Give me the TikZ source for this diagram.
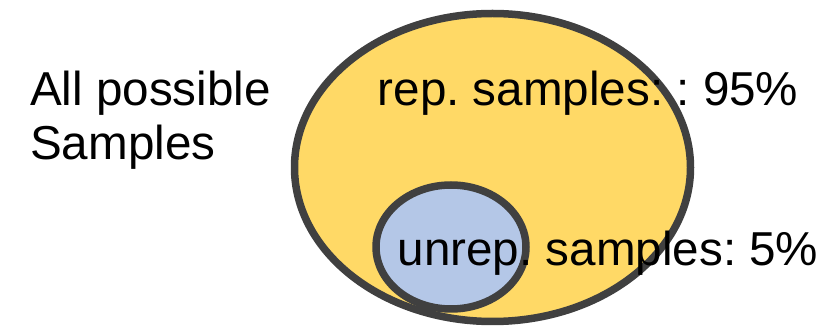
\documentclass[tikz,border=0pt]{standalone}
\usepackage{fontspec}
\setmainfont{Liberation Sans}
\begin{document}
\frenchspacing
\begin{tikzpicture}[x=1pt,y=-1pt,
  setshape/.style={draw=setline,line width=7.5pt},
  lbl/.style={anchor=base west,inner sep=0pt,font=\fontsize{47.6}{54}\selectfont,align=left}]
\definecolor{setline}{HTML}{404040}
\definecolor{repfill}{HTML}{FFD966}
\definecolor{unrepfill}{HTML}{B4C7E7}
\useasboundingbox (0,0) rectangle (831,328);
% outer set and inner subset
\path[setshape,fill=repfill] (492.5,167.5) ellipse [x radius=198, y radius=154];
\path[setshape,fill=unrepfill] (451,247) ellipse [x radius=75, y radius=62];
% labels (base west of a two-line node sits on its last line)
\node[lbl] (all) at (30,160) {All possible\\Samples};
\node[lbl] (rep) at (377.5,106) {rep. samples: : 95\%};
\node[lbl] (unrep) at (397.5,266) {unrep. samples: 5\%};
\end{tikzpicture}
\end{document}
